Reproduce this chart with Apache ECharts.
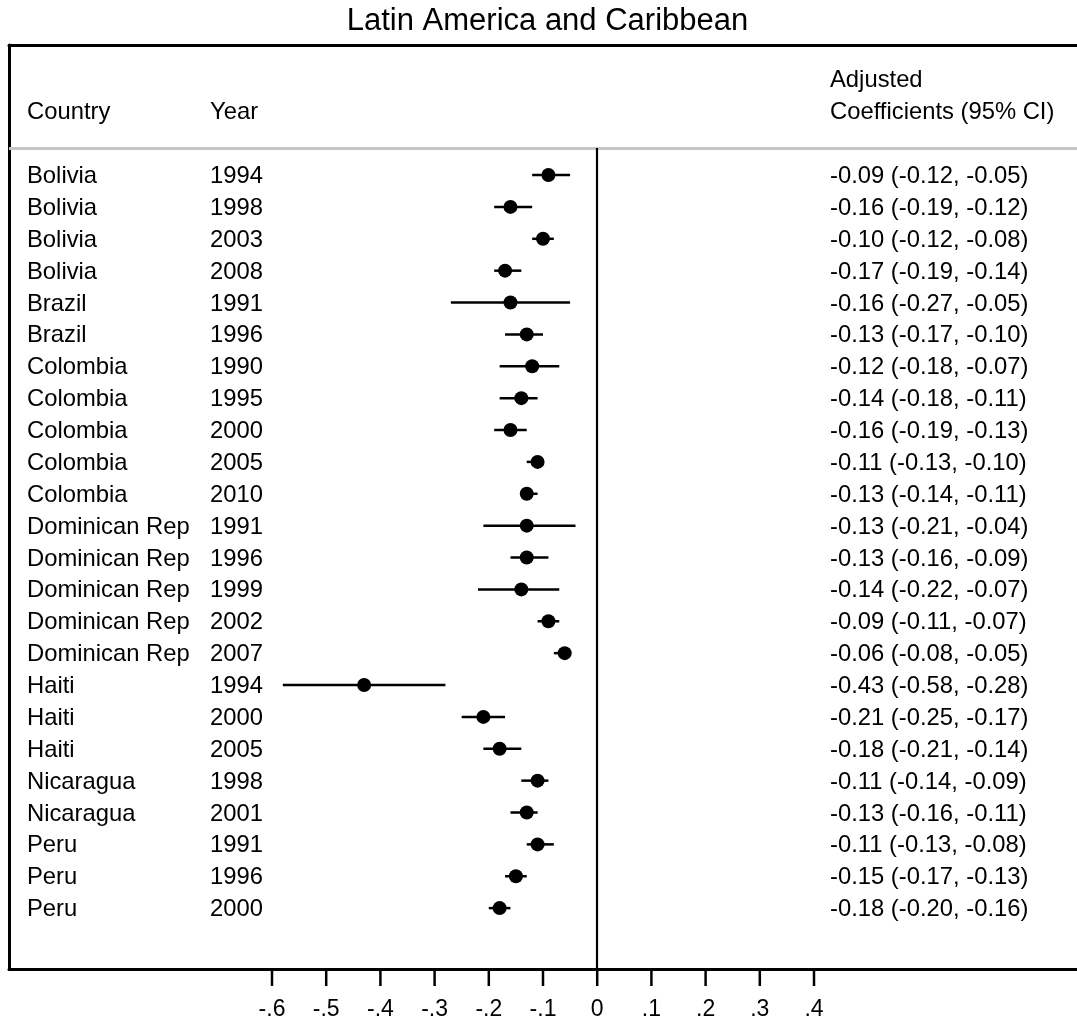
<!DOCTYPE html>
<html>
<head>
<meta charset="utf-8">
<script src="https://cdn.jsdelivr.net/npm/echarts@6/dist/echarts.min.js"></script>
<style>
html,body{margin:0;padding:0;background:#fff;}
#chart{width:1077px;height:1025px;}
</style>
</head>
<body>
<div id="chart"></div>
<script>
// ---- data ----
var countries = ['Bolivia','Bolivia','Bolivia','Bolivia','Brazil','Brazil','Colombia','Colombia','Colombia','Colombia','Colombia','Dominican Rep','Dominican Rep','Dominican Rep','Dominican Rep','Dominican Rep','Haiti','Haiti','Haiti','Nicaragua','Nicaragua','Peru','Peru','Peru'];
var years = ['1994','1998','2003','2008','1991','1996','1990','1995','2000','2005','2010','1991','1996','1999','2002','2007','1994','2000','2005','1998','2001','1991','1996','2000'];
var estimates = [-0.09,-0.16,-0.10,-0.17,-0.16,-0.13,-0.12,-0.14,-0.16,-0.11,-0.13,-0.13,-0.13,-0.14,-0.09,-0.06,-0.43,-0.21,-0.18,-0.11,-0.13,-0.11,-0.15,-0.18];
var lower = [-0.12,-0.19,-0.12,-0.19,-0.27,-0.17,-0.18,-0.18,-0.19,-0.13,-0.14,-0.21,-0.16,-0.22,-0.11,-0.08,-0.58,-0.25,-0.21,-0.14,-0.16,-0.13,-0.17,-0.20];
var upper = [-0.05,-0.12,-0.08,-0.14,-0.05,-0.10,-0.07,-0.11,-0.13,-0.10,-0.11,-0.04,-0.09,-0.07,-0.07,-0.05,-0.28,-0.17,-0.14,-0.09,-0.11,-0.08,-0.13,-0.16];
var tickValues = [-0.6,-0.5,-0.4,-0.3,-0.2,-0.1,0,0.1,0.2,0.3,0.4];
var titleText = 'Latin America and Caribbean';
var headerCountry = 'Country';
var headerYear = 'Year';
var headerCoef1 = 'Adjusted';
var headerCoef2 = 'Coefficients (95% CI)';

// ---- layout ----
var FONT = '"Liberation Sans", Arial, sans-serif';
var ROW_FS = 23.8;
var TEXT_DY = 1.5;
var GRID_L = 9, GRID_R = 0, GRID_T = 45, GRID_B = 56;
var PX_PER_UNIT = 542, ZERO_PX = 597.2;
var W = 1077;
var XMIN = -(ZERO_PX - GRID_L) / PX_PER_UNIT;
var XMAX = (W - GRID_R - ZERO_PX) / PX_PER_UNIT;
var YMIN = -3.08, YMAX = 25.91, HEADER_LINE = 0.15;
var COL_COUNTRY = 27, COL_YEAR = 210, COL_COEF = 830;

function fmt(v){ return v.toFixed(2); }
function tickFmt(v){
  if (Math.abs(v) < 1e-9) return '0';
  var s = (Math.round(v*10)/10).toString();
  return s.replace('0.', '.');
}

var rows = countries.map(function(c,i){ return [i+1, estimates[i], lower[i], upper[i]]; });
var headerRows = [[-1,0],[-2,1]];

var chart = echarts.init(document.getElementById('chart'));
chart.setOption({
  animation: false,
  backgroundColor: '#fff',
  graphic: [{
    type: 'text', x: 547.5, y: 21,
    style: { text: titleText, font: '31px ' + FONT, fill: '#000', align: 'center', verticalAlign: 'middle' }
  }],
  grid: { left: GRID_L, right: GRID_R, top: GRID_T, bottom: GRID_B },
  xAxis: [{
    type: 'value', min: XMIN, max: XMAX, position: 'bottom',
    axisLine: { show: true, onZero: false, lineStyle: { color: '#000', width: 3 } },
    axisTick: { show: false },
    axisLabel: { show: true, customValues: tickValues, formatter: tickFmt, margin: 29,
      fontFamily: FONT, fontSize: 23, color: '#000' },
    splitLine: { show: false }
  },{
    type: 'value', min: XMIN, max: XMAX, position: 'top',
    axisLine: { show: true, onZero: false, lineStyle: { color: '#000', width: 3 } },
    axisTick: { show: false }, axisLabel: { show: false }, splitLine: { show: false }
  }],
  yAxis: {
    type: 'value', inverse: true, min: YMIN, max: YMAX,
    axisLine: { show: true, onZero: false, lineStyle: { color: '#000', width: 3 } },
    axisTick: { show: false }, axisLabel: { show: false }, splitLine: { show: false }
  },
  series: [{
    type: 'custom', name: 'table',
    data: rows.map(function(r){ return [r[0]]; }),
    encode: { y: 0 },
    renderItem: function(params, api){
      var i = params.dataIndex;
      var y = api.coord([0, api.value(0)])[1] + TEXT_DY;
      var st = function(t, x){ return { type: 'text', style: { text: t, x: x, y: y, font: ROW_FS + 'px ' + FONT, fill: '#000', verticalAlign: 'middle' } }; };
      return { type: 'group', children: [
        st(countries[i], COL_COUNTRY), st(years[i], COL_YEAR),
        st(fmt(estimates[i]) + ' (' + fmt(lower[i]) + ', ' + fmt(upper[i]) + ')', COL_COEF)
      ]};
    },
    markLine: {
      silent: true, symbol: 'none', label: { show: false },
      data: [
        [{ coord: [XMIN, HEADER_LINE], lineStyle: { color: '#c6c6c6', width: 3, type: 'solid' } }, { coord: [XMAX, HEADER_LINE] }],
        [{ coord: [0, HEADER_LINE], lineStyle: { color: '#000', width: 2.2, type: 'solid' } }, { coord: [0, YMAX] }]
      ]
    }
  },{
    type: 'custom', name: 'header',
    data: headerRows,
    encode: { y: 0 },
    renderItem: function(params, api){
      var y = api.coord([0, api.value(0)])[1] + TEXT_DY;
      var st = function(t, x){ return { type: 'text', style: { text: t, x: x, y: y, font: ROW_FS + 'px ' + FONT, fill: '#000', verticalAlign: 'middle' } }; };
      if (api.value(1) === 0) {
        return { type: 'group', children: [ st(headerCountry, COL_COUNTRY), st(headerYear, COL_YEAR), st(headerCoef2, COL_COEF) ] };
      }
      return { type: 'group', children: [ st(headerCoef1, COL_COEF) ] };
    }
  },{
    type: 'custom', name: 'ticks',
    data: tickValues.map(function(v){ return [v]; }),
    encode: { x: 0 },
    clip: false,
    renderItem: function(params, api){
      var p = api.coord([api.value(0), YMAX]);
      return { type: 'line', shape: { x1: p[0], y1: p[1] + 1, x2: p[0], y2: p[1] + 17 }, style: { stroke: '#000', lineWidth: 2.5 } };
    }
  },{
    type: 'custom', name: 'ci',
    data: rows,
    encode: { x: [1,2,3], y: 0 },
    renderItem: function(params, api){
      var row = api.value(0);
      var p = api.coord([api.value(1), row]);
      var a = api.coord([api.value(2), row]);
      var b = api.coord([api.value(3), row]);
      return { type: 'group', children: [
        { type: 'line', shape: { x1: a[0], y1: a[1], x2: b[0], y2: b[1] }, style: { stroke: '#000', lineWidth: 2.5 } },
        { type: 'circle', shape: { cx: p[0], cy: p[1], r: 7 }, style: { fill: '#000' } }
      ]};
    }
  }]
});
</script>
</body>
</html>
